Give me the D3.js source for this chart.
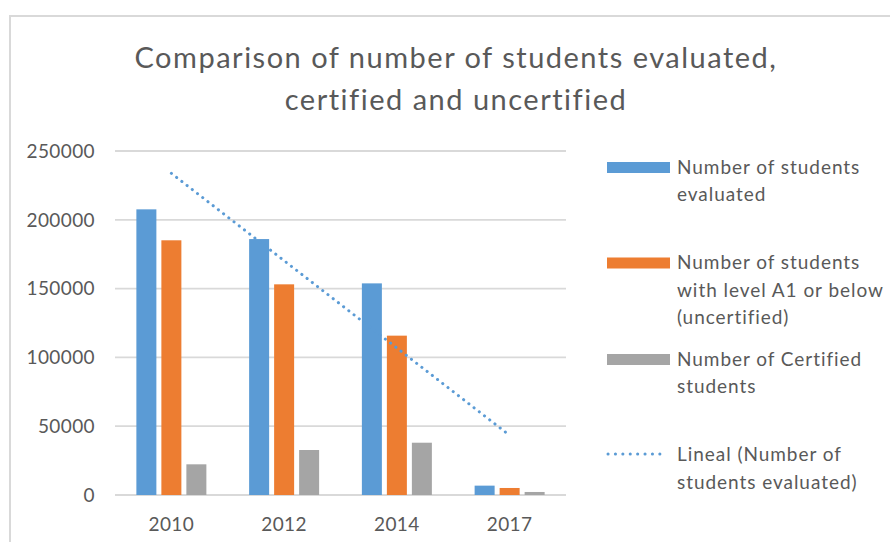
<!DOCTYPE html>
<html>
<head>
<meta charset="utf-8">
<script src="https://cdn.jsdelivr.net/npm/d3@7"></script>
<style>
  body { margin: 0; background: #fff; }
  svg text { font-family: Lato, "Open Sans", sans-serif; fill: #595959; }
  .title { font-size: 29px; letter-spacing: 1.5px; }
  .tick-label { font-size: 19px; letter-spacing: 0.4px; }
  .legend-label { font-size: 19px; letter-spacing: 0.95px; }
</style>
</head>
<body>
<svg width="890" height="542"></svg>
<script>
// values
var years = ["2010", "2012", "2014", "2017"];
var evaluated = [207600, 186000, 153800, 6800];
var uncertified = [185100, 153100, 115800, 5100];
var certified = [22300, 32700, 38000, 2200];
var yTicks = [0, 50000, 100000, 150000, 200000, 250000];

var seriesNames = ["evaluated", "uncertified", "certified"];
var seriesColors = ["#5b9bd5", "#ed7d31", "#a5a5a5"];
var legendLines = [
    ["Number of students", "evaluated"],
    ["Number of students", "with level A1 or below", "(uncertified)"],
    ["Number of Certified", "students"],
    ["Lineal (Number of", "students evaluated)"]
];

var svg = d3.select("svg");

// chart frame (only top and left edges visible)
svg.append("path")
    .attr("d", "M10,542 V16 H890")
    .attr("fill", "none")
    .attr("stroke", "#d9d9d9")
    .attr("stroke-width", 2);

var title = svg.append("text")
    .attr("class", "title")
    .attr("text-anchor", "middle");
title.append("tspan").attr("x", 456).attr("y", 68).text("Comparison of number of students evaluated,");
title.append("tspan").attr("x", 456).attr("y", 110).text("certified and uncertified");

var x0 = d3.scaleBand().domain(years).range([115, 566]);
var x1 = d3.scaleBand().domain(seriesNames).range([0, 70]).paddingInner(0.2);
var y = d3.scaleLinear().domain([0, 250000]).range([495, 151]);

// gridlines
svg.append("g").selectAll("line")
    .data(yTicks)
    .enter()
    .append("line")
    .attr("x1", 115).attr("x2", 566)
    .attr("y1", function (d) { return y(d); })
    .attr("y2", function (d) { return y(d); })
    .attr("stroke", "#d9d9d9")
    .attr("stroke-width", 1.8);

// y labels
svg.append("g").selectAll("text")
    .data(yTicks)
    .enter()
    .append("text")
    .attr("class", "tick-label")
    .attr("x", 95)
    .attr("y", function (d) { return y(d); })
    .attr("dy", "0.36em")
    .attr("text-anchor", "end")
    .text(function (d) { return d; });

// x labels
svg.append("g").selectAll("text")
    .data(years)
    .enter()
    .append("text")
    .attr("class", "tick-label")
    .attr("x", function (d) { return x0(d) + x0.bandwidth() / 2; })
    .attr("y", 531)
    .attr("text-anchor", "middle")
    .text(function (d) { return d; });

var table = years.map(function (yr, i) {
    return { year: yr, values: [evaluated[i], uncertified[i], certified[i]] };
});

var groups = svg.append("g").selectAll(".group")
    .data(table)
    .enter()
    .append("g")
    .attr("class", "group")
    .attr("transform", function (d) {
        return "translate(" + (x0(d.year) + x0.bandwidth() / 2 - 35) + ",0)";
    });

groups.selectAll("rect")
    .data(function (d) {
        return d.values.map(function (v, j) { return { key: seriesNames[j], value: v, color: seriesColors[j] }; });
    })
    .enter()
    .append("rect")
    .attr("x", function (d) { return x1(d.key); })
    .attr("y", function (d) { return y(d.value); })
    .attr("width", x1.bandwidth())
    .attr("height", function (d) { return y(0) - y(d.value); })
    .attr("fill", function (d) { return d.color; });

// linear trend of students evaluated
var n = evaluated.length;
var mx = d3.mean(d3.range(1, n + 1));
var my = d3.mean(evaluated);
var slope = d3.sum(evaluated, function (v, i) { return (i + 1 - mx) * (v - my); }) /
    d3.sum(d3.range(1, n + 1), function (k) { return (k - mx) * (k - mx); });
var trend = years.map(function (yr, i) { return { year: yr, value: my + slope * (i + 1 - mx) }; });

svg.append("path")
    .datum([trend[0], trend[n - 1]])
    .attr("d", d3.line()
        .x(function (d) { return x0(d.year) + x0.bandwidth() / 2; })
        .y(function (d) { return y(d.value); }))
    .attr("fill", "none")
    .attr("stroke", "#5b9bd5")
    .attr("stroke-width", 3)
    .attr("stroke-linecap", "round")
    .attr("stroke-dasharray", "0.1 6.5");

// legend
var legendTop = [162, 257.5, 354, 449.5];
var legend = svg.append("g").selectAll(".legend")
    .data(legendLines)
    .enter()
    .append("g")
    .attr("class", "legend")
    .attr("transform", function (d, i) { return "translate(607," + legendTop[i] + ")"; });

legend.each(function (d, i) {
    var g = d3.select(this);
    if (i < 3) {
        g.append("rect")
            .attr("width", 63).attr("height", 11)
            .attr("fill", seriesColors[i]);
    } else {
        g.append("line")
            .attr("x1", 1).attr("x2", 60)
            .attr("y1", 4.5).attr("y2", 4.5)
            .attr("stroke", "#5b9bd5")
            .attr("stroke-width", 3)
            .attr("stroke-linecap", "round")
            .attr("stroke-dasharray", "0.1 7.3");
    }
    g.selectAll("text")
        .data(d)
        .enter()
        .append("text")
        .attr("class", "legend-label")
        .attr("x", 70)
        .attr("y", function (t, k) { return 11.5 + k * 27.5; })
        .text(function (t) { return t; });
});
</script>
</body>
</html>
